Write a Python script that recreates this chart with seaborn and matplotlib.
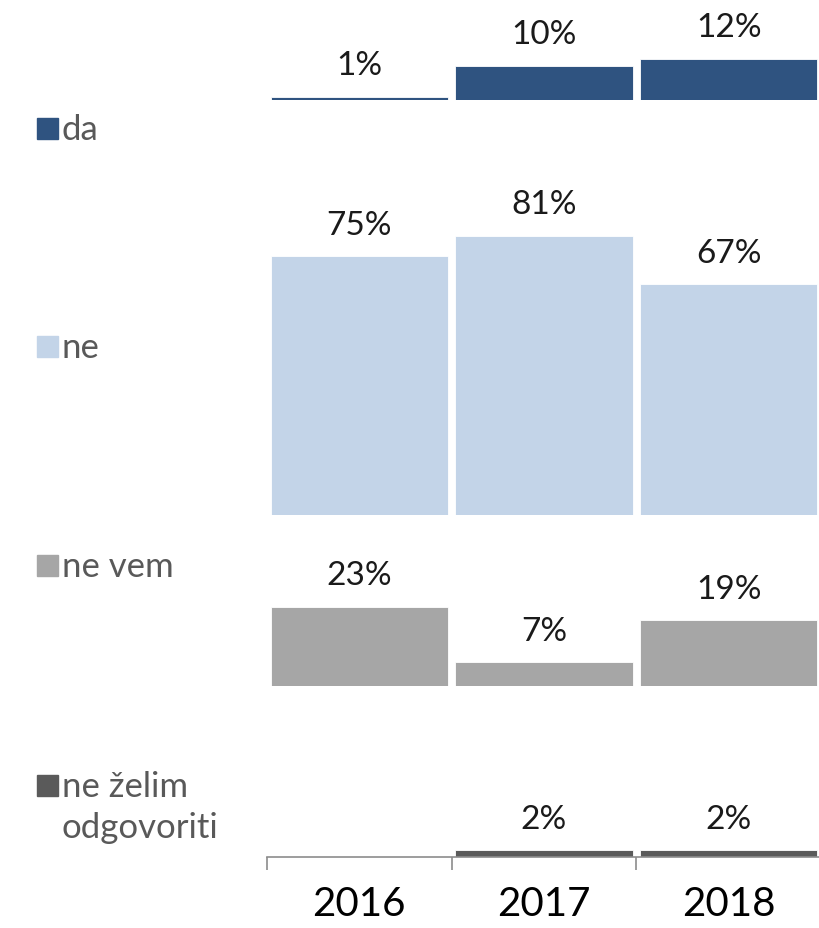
import matplotlib
matplotlib.use("Agg")
import matplotlib.pyplot as plt
from matplotlib.patches import Rectangle
import seaborn as sns

sns.set_style("white")
plt.rcParams["font.family"] = ["Lato", "DejaVu Sans"]

# data
years = ["2016", "2017", "2018"]
answers = ["da", "ne", "ne vem", "ne želim\nodgovoriti"]
da_vals = [1, 10, 12]
ne_vals = [75, 81, 67]
ne_vem_vals = [23, 7, 19]
ne_zelim_vals = [0, 2, 2]
series = [da_vals, ne_vals, ne_vem_vals, ne_zelim_vals]
colors = ["#2F5380", "#C3D4E8", "#A6A6A6", "#5A5A5A"]

# layout (pixels)
W, H = 819, 929
px_per_pct = 3.45
ax_left, ax_right = 267, 821
row_baselines = [101, 516, 687, 858]
row_tops = [0, 120, 530, 700]
legend_baselines = [140, 358, 577, 797]
line_step = 41

fig = plt.figure(figsize=(W / 100, H / 100), dpi=100)


def fig_box(left, top, right, bottom):
    return [left / W, 1 - bottom / H, (right - left) / W, (bottom - top) / H]


axes = []
for k, (vals, col) in enumerate(zip(series, colors)):
    base, top = row_baselines[k], row_tops[k]
    ax = fig.add_axes(fig_box(ax_left, top, ax_right, base))
    sns.barplot(x=years, y=vals, color=col, saturation=1, width=0.96,
                edgecolor="white", linewidth=0.6, ax=ax)
    ax.set_xlim(-0.5, 2.5)
    ax.set_ylim(0, (base - top) / px_per_pct)
    for i, v in enumerate(vals):
        if v > 0:
            ax.annotate(f"{v}%", (i, v), xytext=(0, 16), textcoords="offset points",
                        ha="center", va="baseline", fontsize=24, color="#1a1a1a")
    ax.set_xlabel("")
    ax.set_ylabel("")
    ax.set_yticks([])
    for s in ["top", "right", "left", "bottom"]:
        ax.spines[s].set_visible(False)
    ax.set_xticks([])
    ax.patch.set_alpha(0)
    axes.append(ax)

# category axis on the bottom row
bax = axes[-1]
bax.spines["bottom"].set_visible(True)
bax.spines["bottom"].set_color("#8c8c8c")
bax.spines["bottom"].set_linewidth(1.2)
bax.set_xticks([-0.5, 0.5, 1.5, 2.5])
bax.set_xticklabels([])
bax.tick_params(axis="x", which="major", bottom=True, length=9, width=1.2,
                color="#8c8c8c", direction="out")
bax.set_xticks([0, 1, 2], minor=True)
bax.set_xticklabels(years, minor=True)
bax.tick_params(axis="x", which="minor", length=0, pad=20, labelsize=29,
                labelcolor="black")

# row labels with colour keys
sq = 21
for label, col, yb in zip(answers, colors, legend_baselines):
    fig.patches.append(Rectangle((37 / W, 1 - yb / H), sq / W, sq / H,
                                 transform=fig.transFigure, color=col, zorder=3))
    for j, line in enumerate(label.split("\n")):
        fig.text(62 / W, 1 - (yb + j * line_step) / H, line, ha="left",
                 va="baseline", fontsize=25, color="#595959")

fig.savefig("out.png", dpi=100)
